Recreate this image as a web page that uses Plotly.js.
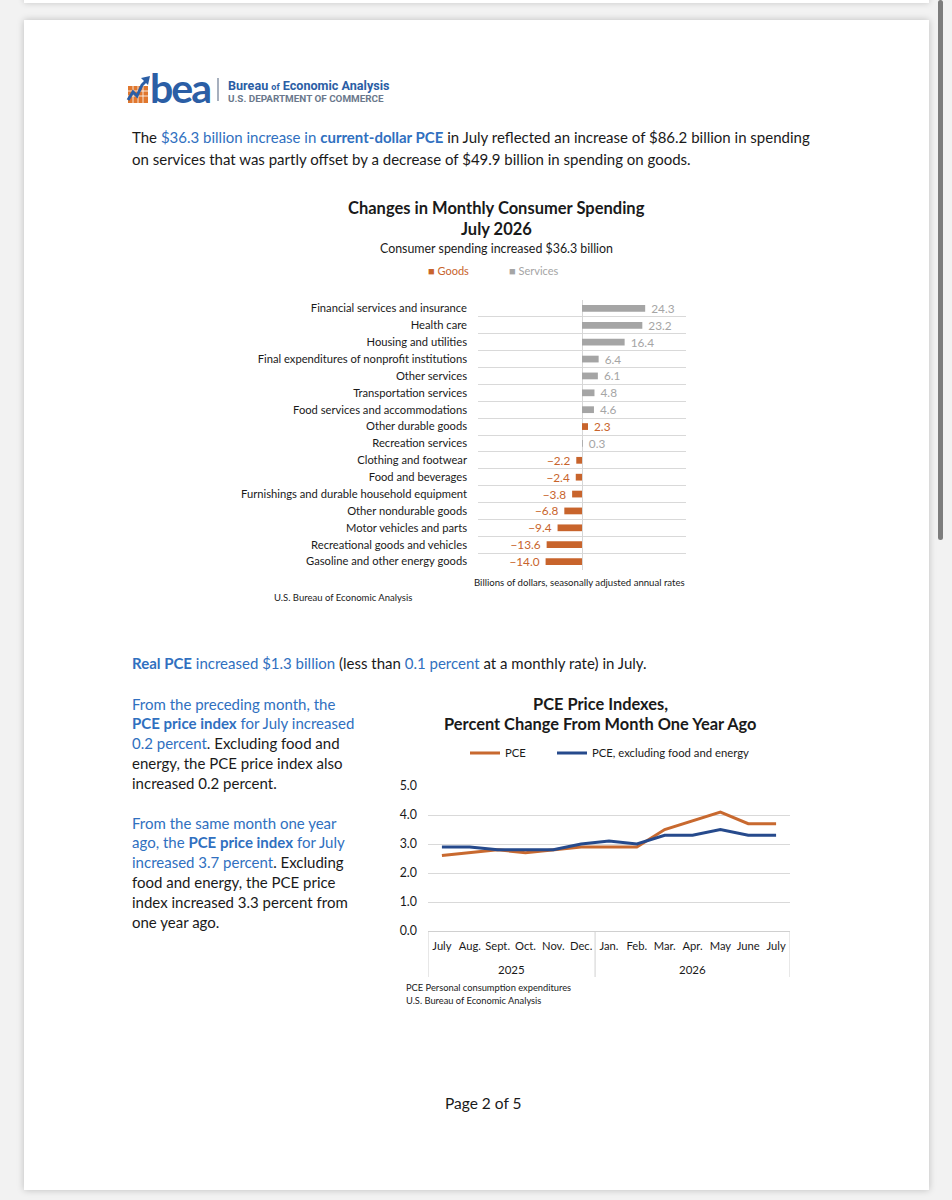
<!DOCTYPE html>
<html><head><meta charset="utf-8">
<script src="https://cdn.plot.ly/plotly-3.0.1.min.js"></script>
<style>
html,body{margin:0;padding:0;width:952px;height:1200px;overflow:hidden;background:#f2f2f2;}
#prev{position:absolute;left:24px;top:-10px;width:905px;height:13px;background:#fff;box-shadow:0 0 6px rgba(0,0,0,0.18);}
#page{position:absolute;left:24px;top:20px;width:905px;height:1170px;background:#fff;box-shadow:0 0 7px rgba(0,0,0,0.22);}
#scroll{position:absolute;left:938px;top:0;width:5px;height:540px;background:#7d7d7d;border-radius:3px;}
#logo{position:absolute;left:126px;top:72px;}
#chart{position:absolute;left:0;top:0;width:952px;height:1200px;}
</style></head>
<body>
<div id="prev"></div>
<div id="page"></div>
<div id="scroll"></div>
<svg id="logo" width="26" height="34" viewBox="0 0 26 34">
  <rect x="2" y="14" width="20" height="17" fill="#e0772e"/>
  <g stroke="#fff" stroke-width="0.8">
    <line x1="2" y1="19" x2="22" y2="19"/><line x1="2" y1="24" x2="22" y2="24"/>
    <line x1="7" y1="14" x2="7" y2="31"/><line x1="12" y1="14" x2="12" y2="31"/><line x1="17" y1="14" x2="17" y2="31"/>
  </g>
  <polyline points="2,28 7,20 11,24 16,13 20,9" fill="none" stroke="#2b5ea5" stroke-width="3"/>
  <polygon points="15,6 24,4 22,13" fill="#2b5ea5"/>
</svg>
<div id="chart"></div>
<script>
// ---------- data ----------
const barCategories = [
  "Financial services and insurance","Health care","Housing and utilities",
  "Final expenditures of nonprofit institutions","Other services","Transportation services",
  "Food services and accommodations","Other durable goods","Recreation services",
  "Clothing and footwear","Food and beverages","Furnishings and durable household equipment",
  "Other nondurable goods","Motor vehicles and parts","Recreational goods and vehicles",
  "Gasoline and other energy goods"];
const barValues = [24.3,23.2,16.4,6.4,6.1,4.8,4.6,2.3,0.3,-2.2,-2.4,-3.8,-6.8,-9.4,-13.6,-14.0];
const barType = ["S","S","S","S","S","S","S","G","S","G","G","G","G","G","G","G"];

const monthLabels = ["July","Aug.","Sept.","Oct.","Nov.","Dec.","Jan.","Feb.","Mar.","Apr.","May","June","July"];
const monthYear   = ["2025","2025","2025","2025","2025","2025","2026","2026","2026","2026","2026","2026","2026"];
const pceValues   = [2.6,2.7,2.8,2.7,2.8,2.9,2.9,2.9,3.5,3.8,4.1,3.7,3.7];
const coreValues  = [2.9,2.9,2.8,2.8,2.8,3.0,3.1,3.0,3.3,3.3,3.5,3.3,3.3];

// ---------- styling ----------
const W=952,H=1200;
const X=p=>p/W, Y=p=>1-p/H;
const ORANGE='#c8642c', GRAY='#a5a5a5', BLUE_LINE='#264a8c', ORANGE_LINE='#c8692f';
const TXT='#1a1a1a', BLUE='#3070c0';
const FONT='Lato, "Open Sans", sans-serif';
const NB='\u00a0';

const fmt = v => (v<0 ? '\u2212'+Math.abs(v).toFixed(1)+NB : NB+v.toFixed(1));

function pick(t){ return barValues.map((v,i)=> barType[i]===t ? v : null); }
function pickText(t){ return barValues.map((v,i)=> barType[i]===t ? fmt(v) : ''); }

const xs = monthLabels.map((m,i)=>i);
const traces = [
  {type:'bar', orientation:'h', name:'Goods', y:barCategories, x:pick('G'), showlegend:false,
   marker:{color:ORANGE}, text:pickText('G'), textposition:'outside', constraintext:'none',
   cliponaxis:false, textfont:{color:ORANGE,size:11.8,family:FONT}, xaxis:'x', yaxis:'y', hoverinfo:'skip'},
  {type:'bar', orientation:'h', name:'Services', y:barCategories, x:pick('S'), showlegend:false,
   marker:{color:GRAY}, text:pickText('S'), textposition:'outside', constraintext:'none',
   cliponaxis:false, textfont:{color:GRAY,size:11.8,family:FONT}, xaxis:'x', yaxis:'y', hoverinfo:'skip'},
  {type:'scatter', mode:'lines', name:'PCE', x:xs, y:pceValues,
   line:{color:ORANGE_LINE,width:3}, xaxis:'x2', yaxis:'y2', legend:'legend', hoverinfo:'skip'},
  {type:'scatter', mode:'lines', name:'PCE, excluding food and energy', x:xs, y:coreValues,
   line:{color:BLUE_LINE,width:3}, xaxis:'x2', yaxis:'y2', legend:'legend2', hoverinfo:'skip'}
];

function ann(text,x,y,o={}){
  return Object.assign({text, x:X(x), y:Y(y), xref:'paper', yref:'paper', showarrow:false,
    xanchor:'left', yanchor:'middle', font:{size:15,color:TXT,family:FONT}}, o);
}
const b = s => '<span style="color:'+BLUE+'">'+s+'</span>';

// year group labels, positioned at the middle of their months
const years = [...new Set(monthYear)];
const yearAnn = years.map(yr=>{
  const idx = monthYear.map((y,i)=>y===yr?i:-1).filter(i=>i>=0);
  return {text:yr, x:(idx[0]+idx[idx.length-1])/2, xref:'x2', y:Y(969), yref:'paper',
    xanchor:'center', yanchor:'middle', showarrow:false, font:{size:11.5,color:TXT,family:FONT}};
});
// group dividers at group boundaries
const bounds = [-0.5];
monthYear.forEach((y,i)=>{ if(i>0 && y!==monthYear[i-1]) bounds.push(i-0.5); });
bounds.push(monthYear.length-0.5);
const dividerShapes = bounds.map(bx=>({type:'line', xref:'x2', yref:'paper', x0:bx, x1:bx,
  y0:Y(931), y1:Y(977), line:{color:'#d0d0d0', width:1}}));

const annotations = [
  // logo text
  ann('<b><span style="letter-spacing:-2px">bea</span></b>',148,87,{font:{size:41,color:'#2b5ea5',family:FONT}}),
  ann('<b>Bureau <span style="font-size:9px">of</span> Economic Analysis</b>',226,86,{font:{size:12.6,color:'#2b5ea5',family:'Roboto, sans-serif'}}),
  ann('<b>U.S. DEPARTMENT OF COMMERCE</b>',226,98,{font:{size:9.9,color:'#6a788c',family:'Roboto, sans-serif'}}),
  // intro paragraph
  ann('The '+b('$36.3 billion increase in <b>current-dollar PCE</b>')+' in July reflected an increase of $86.2 billion in spending',130,137),
  ann('on services that was partly offset by a decrease of $49.9 billion in spending on goods.',130,159),
  // bar chart titles
  ann('<b>Changes in Monthly Consumer Spending</b>',496,208,{xanchor:'center',font:{size:16.5,color:TXT,family:FONT}}),
  ann('<b>July 2026</b>',496,229,{xanchor:'center',font:{size:16.5,color:TXT,family:FONT}}),
  ann('Consumer spending increased $36.3 billion',496,248,{xanchor:'center',font:{size:12.4,color:TXT,family:FONT}}),
  ann('\u25A0 Goods',426,270,{font:{size:11,color:ORANGE,family:FONT}}),
  ann('\u25A0 Services',507,270,{font:{size:11,color:GRAY,family:FONT}}),
  ann('Billions of dollars, seasonally adjusted annual rates',472,582,{font:{size:9.6,color:TXT,family:FONT}}),
  ann('U.S. Bureau of Economic Analysis',272,597,{font:{size:9.5,color:TXT,family:FONT}}),
  // Real PCE
  ann(b('<b>Real PCE</b> increased $1.3 billion')+' (less than '+b('0.1 percent')+' at a monthly rate) in July.',130,663),
  // left column
  ann(b('From the preceding month, the'),130,704),
  ann(b('<b>PCE price index</b> for July increased'),130,723),
  ann(b('0.2 percent')+'. Excluding food and',130,743),
  ann('energy, the PCE price index also',130,763),
  ann('increased 0.2 percent.',130,783),
  ann(b('From the same month one year'),130,823),
  ann(b('ago, the <b>PCE price index</b> for July'),130,842),
  ann(b('increased 3.7 percent')+'. Excluding',130,862),
  ann('food and energy, the PCE price',130,882),
  ann('index increased 3.3 percent from',130,902),
  ann('one year ago.',130,922),
  // line chart titles
  ann('<b>PCE Price Indexes,</b>',600,703,{xanchor:'center',font:{size:16.4,color:TXT,family:FONT}}),
  ann('<b>Percent Change From Month One Year Ago</b>',600,723,{xanchor:'center',font:{size:16.4,color:TXT,family:FONT}}),
  ann('PCE Personal consumption expenditures',404,987,{font:{size:9.3,color:TXT,family:FONT}}),
  ann('U.S. Bureau of Economic Analysis',404,1001,{font:{size:9.3,color:TXT,family:FONT}}),
  ann('Page 2 of 5',483,1103,{xanchor:'center',font:{size:15.5,color:TXT,family:FONT}})
].concat(yearAnn);

const shapes = [
  {type:'line', xref:'paper', yref:'paper', x0:X(218), x1:X(218), y0:Y(78), y1:Y(101), line:{color:'#8a96a8',width:1.5}}
].concat(dividerShapes);

const legendBase = {orientation:'h', xanchor:'left', yanchor:'middle',
  font:{size:11.3,color:TXT,family:FONT}, bgcolor:'rgba(0,0,0,0)', itemwidth:30};
const layout = {
  width:W, height:H, margin:{l:0,r:0,t:0,b:0},
  paper_bgcolor:'rgba(0,0,0,0)', plot_bgcolor:'rgba(0,0,0,0)',
  font:{family:FONT,color:TXT},
  barmode:'relative', bargap:0.6,
  showlegend:true,
  legend:Object.assign({x:X(465), y:Y(753)}, legendBase),
  legend2:Object.assign({x:X(552), y:Y(753)}, legendBase),
  xaxis:{domain:[X(478),X(686)], range:[-40,40], showticklabels:false, showgrid:false,
    zeroline:true, zerolinecolor:'#d6d6d6', zerolinewidth:1, fixedrange:true, anchor:'y'},
  yaxis:{domain:[Y(570),Y(300)], type:'category', autorange:'reversed', tickson:'boundaries',
    showgrid:true, gridcolor:'#d9d9d9', ticks:'', tickfont:{size:11.2,color:TXT,family:FONT},
    ticklabelstandoff:10, fixedrange:true, anchor:'x'},
  xaxis2:{domain:[X(428),X(790)], range:[-0.5,12.5], tickmode:'array',
    tickvals:xs, ticktext:monthLabels, tickangle:0,
    tickfont:{size:11.2,color:TXT,family:FONT}, showline:true, linecolor:'#d0d0d0', showgrid:false,
    zeroline:false, ticks:'', ticklabelstandoff:5, anchor:'y2', fixedrange:true},
  yaxis2:{domain:[Y(931),Y(786)], range:[0,5], dtick:1, tickformat:'.1f', gridcolor:'#d9d9d9',
    zeroline:false, tickfont:{size:12.4,color:TXT,family:FONT}, ticks:'', ticklabelstandoff:10,
    anchor:'x2', fixedrange:true},
  annotations, shapes
};
Plotly.newPlot('chart', traces, layout, {displayModeBar:false, staticPlot:true});
</script>
</body></html>
